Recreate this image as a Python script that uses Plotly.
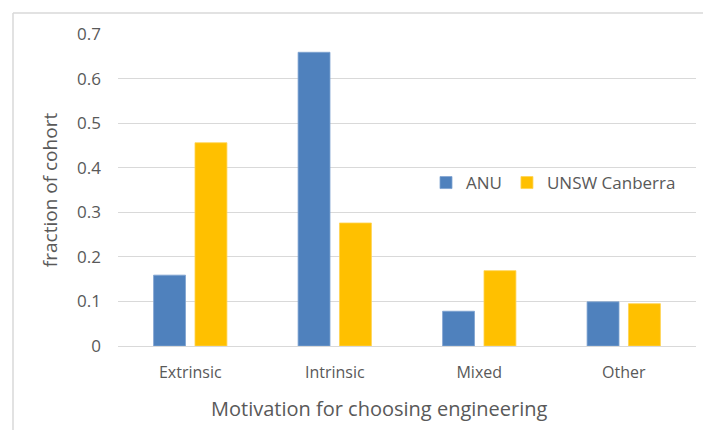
import plotly.graph_objects as go

categories = ["Extrinsic", "Intrinsic", "Mixed", "Other"]
anu = [0.159, 0.659, 0.078, 0.099]
unsw = [0.456, 0.276, 0.169, 0.095]
y_ticks = [0, 0.1, 0.2, 0.3, 0.4, 0.5, 0.6, 0.7]
y_tick_labels = ["0", "0.1", "0.2", "0.3", "0.4", "0.5", "0.6", "0.7"]

W, H = 703, 430
L, R, T, B = 118, 7, 34, 84
pw, ph = W - L - R, H - T - B

fig = go.Figure()
fig.add_trace(go.Bar(x=categories, y=anu, name="ANU",
                     marker=dict(color="#4F81BD", line=dict(color="#7FA3D0", width=0.8))))
fig.add_trace(go.Bar(x=categories, y=unsw, name="UNSW Canberra",
                     marker=dict(color="#FFC000", line=dict(color="#FFD350", width=0.8))))

font_family = "Open Sans, Liberation Sans, sans-serif"
fig.update_layout(
    width=W, height=H,
    margin=dict(l=L, r=R, t=T, b=B),
    paper_bgcolor="white", plot_bgcolor="white",
    barmode="group", bargap=0.427, bargroupgap=0.229,
    font=dict(family=font_family, color="#595959"),
    showlegend=True,
    legend=dict(orientation="h", x=(426 - L) / pw, y=(H - B - 183) / ph,
                xanchor="left", yanchor="middle",
                font=dict(size=17, color="#595959"),
                bgcolor="rgba(0,0,0,0)", itemwidth=30, traceorder="normal"),
    xaxis=dict(showgrid=False, showline=False, ticks="", ticklabelstandoff=15,
               tickfont=dict(size=16, color="#595959")),
    yaxis=dict(range=[0, 0.7], tickvals=y_ticks, ticktext=y_tick_labels,
               showgrid=True, gridcolor="#D9D9D9", gridwidth=1.2,
               zeroline=True, zerolinecolor="#D9D9D9", zerolinewidth=1.2,
               showline=False, ticks="", ticklabelstandoff=16,
               tickfont=dict(size=17, color="#595959"),
               title=dict(text="fraction of cohort",
                          font=dict(size=19, color="#595959"), standoff=14)),
    annotations=[
        dict(text="Motivation for choosing engineering", showarrow=False,
             xref="paper", yref="paper",
             x=(379 - L) / pw, y=-(408 - (H - B)) / ph,
             xanchor="center", yanchor="middle",
             font=dict(size=20, color="#595959")),
    ],
    shapes=[
        dict(type="line", xref="paper", yref="paper",
             x0=(13 - L) / pw, x1=(W + 5 - L) / pw,
             y0=(H - B - 13) / ph, y1=(H - B - 13) / ph,
             line=dict(color="#D9D9D9", width=1.5)),
        dict(type="line", xref="paper", yref="paper",
             x0=(13 - L) / pw, x1=(13 - L) / pw,
             y0=(H - B - 13) / ph, y1=-(B + 5) / ph,
             line=dict(color="#D9D9D9", width=1.5)),
    ],
)

fig.write_html("out.html")
